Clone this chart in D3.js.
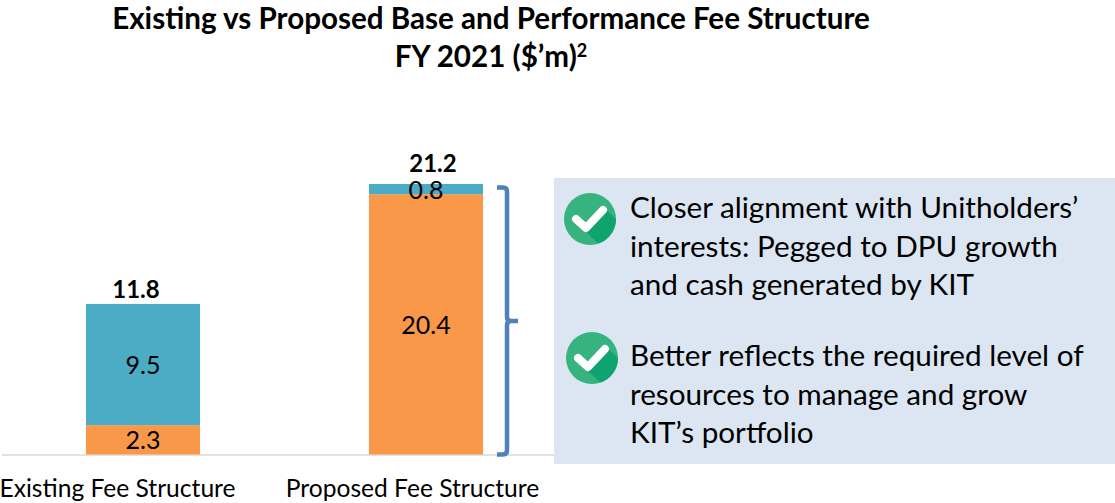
<!DOCTYPE html>
<html>
<head>
<meta charset="utf-8">
<script src="https://cdn.jsdelivr.net/npm/d3@7"></script>
<style>
  html, body { margin: 0; padding: 0; background: #fff; overflow: hidden; }
  text { font-family: Lato, "Open Sans", sans-serif; fill: #000; }
</style>
</head>
<body>
<div id="chart"></div>
<script>
var categories = ["Existing Fee Structure", "Proposed Fee Structure"];
var seriesKeys = ["lower", "upper"];
var lowerValues = [2.3, 20.4];
var upperValues = [9.5, 0.8];
var totals = [11.8, 21.2];
var seriesColors = ["#f99848", "#4bacc6"];
var notes = [
  ["Closer alignment with Unitholders’", "interests: Pegged to DPU growth", "and cash generated by KIT"],
  ["Better reflects the required level of", "resources to manage and grow", "KIT’s portfolio"]
];

var size = {width: 1115, height: 503};

var svg = d3.select("#chart").append("svg")
    .attr("width", size.width)
    .attr("height", size.height)
    .style("display", "block");

var x = d3.scaleBand()
    .domain(categories)
    .range([26, 543])
    .paddingInner(0.597)
    .paddingOuter(0.212);

var y = d3.scaleLinear()
    .domain([0, 21.2])
    .range([454.5, 184]);

var barData = categories.map(function(c, i) {
  return {category: c, lower: lowerValues[i], upper: upperValues[i], total: totals[i]};
});

var stack = d3.stack().keys(seriesKeys);

// title
var title = svg.append("text")
    .attr("text-anchor", "middle")
    .style("font-size", "29.6px")
    .style("font-weight", 700);
title.append("tspan").attr("x", 491).attr("y", 29).text("Existing vs Proposed Base and Performance Fee Structure");
title.append("tspan").attr("x", 491).attr("y", 67).text("FY 2021 ($’m)");
title.append("tspan").attr("dy", -10).style("font-size", "18px").text("2");

// note panel
svg.append("rect")
    .attr("x", 554).attr("y", 178)
    .attr("width", 561).attr("height", 286)
    .attr("fill", "#dce6f2");

// axis line
svg.append("line")
    .attr("x1", 2).attr("x2", 554)
    .attr("y1", y(0) + 0.5).attr("y2", y(0) + 0.5)
    .attr("stroke", "#d9d9d9")
    .attr("stroke-width", 1.5);

// bars
var series = svg.selectAll(".series")
    .data(stack(barData))
    .enter().append("g")
    .attr("class", "series")
    .attr("fill", function(d, i) { return seriesColors[i]; });

series.selectAll("rect")
    .data(function(d) { return d; })
    .enter().append("rect")
    .attr("x", function(d) { return x(d.data.category); })
    .attr("y", function(d) { return y(d[1]); })
    .attr("width", x.bandwidth())
    .attr("height", function(d) { return y(d[0]) - y(d[1]); });

series.selectAll(".value")
    .data(function(d) {
      return d.map(function(p) { return {p: p, v: p[1] - p[0]}; });
    })
    .enter().append("text")
    .attr("class", "value")
    .attr("x", function(d) { return x(d.p.data.category) + x.bandwidth() / 2; })
    .attr("y", function(d) { return (y(d.p[0]) + y(d.p[1])) / 2 + 9.5; })
    .attr("text-anchor", "middle")
    .style("font-size", "25px")
    .text(function(d) { return d.v.toFixed(1); });

// totals
svg.selectAll(".total")
    .data(barData)
    .enter().append("text")
    .attr("class", "total")
    .attr("x", function(d) { return x(d.category) + x.bandwidth() / 2 + (d.total > 20 ? 7 : -7); })
    .attr("y", function(d) { return y(d.total) - (d.total > 20 ? 12 : 6); })
    .attr("text-anchor", "middle")
    .style("font-size", "24px")
    .style("font-weight", 700)
    .text(function(d) { return d.total.toFixed(1); });

// category labels
svg.selectAll(".cat")
    .data(categories)
    .enter().append("text")
    .attr("class", "cat")
    .attr("x", function(d) { return x(d) + x.bandwidth() / 2 - (d[0] === "E" ? 25.5 : 13.5); })
    .attr("y", 497)
    .attr("text-anchor", "middle")
    .style("font-size", "24.6px")
    .text(function(d) { return d; });

// bracket
svg.append("path")
    .attr("d", "M497,187.5H503Q507,187.5 507,191.5V317Q507,321 511,321H518M511,321Q507,321 507,325V450Q507,454.5 503,454.5H497")
    .attr("fill", "none")
    .attr("stroke", "#4f81bd")
    .attr("stroke-width", 4.5);

// notes
var noteY = [[218, 257, 295], [366, 405, 443]];
var tickX = [590, 592];
var tickY = [219, 358];

notes.forEach(function(lines, i) {
  var g = svg.append("g").attr("transform", "translate(" + tickX[i] + "," + tickY[i] + ")");
  g.append("circle").attr("r", 26).attr("fill", "#36b37e");
  g.append("path")
      .attr("d", "M-4,13L8.4,24.6A26,26 0 0 0 26,0L13,-12Z")
      .attr("fill", "#0fa36f");
  g.append("path")
      .attr("d", "M-14,0L-4,9L13,-9")
      .attr("fill", "none")
      .attr("stroke", "#fff")
      .attr("stroke-width", 8)
      .attr("stroke-linejoin", "round")
      .attr("stroke-linecap", "round");

  lines.forEach(function(line, j) {
    svg.append("text")
        .attr("x", 630)
        .attr("y", noteY[i][j])
        .style("font-size", "29.7px")
        .text(line);
  });
});
</script>
</body>
</html>
